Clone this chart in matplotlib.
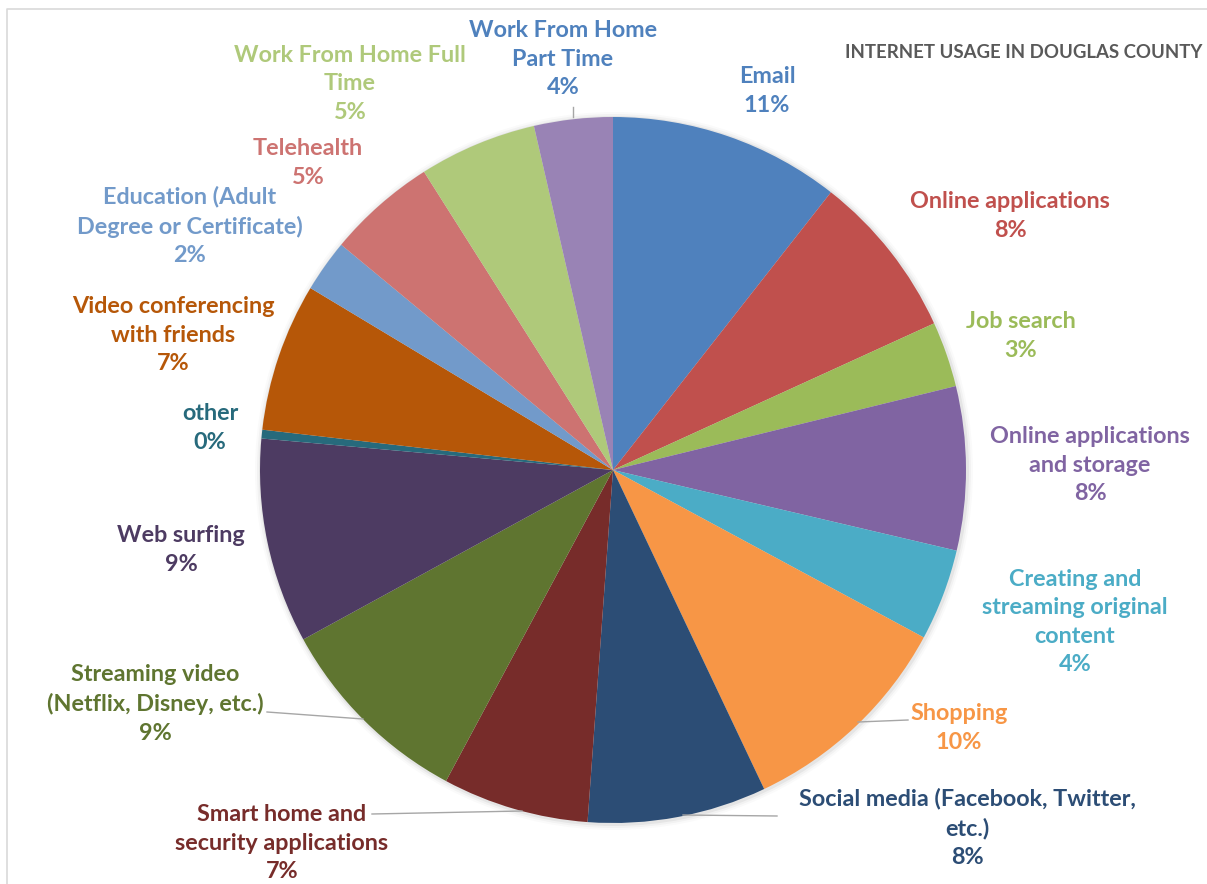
import matplotlib.pyplot as plt
from matplotlib.patches import Circle

# --- datos ---
categorias = [
    "Email", "Online applications", "Job search",
    "Online applications\nand storage",
    "Creating and\nstreaming original\ncontent",
    "Shopping", "Social media (Facebook, Twitter,\netc.)",
    "Smart home and\nsecurity applications",
    "Streaming video\n(Netflix, Disney, etc.)", "Web surfing", "other",
    "Video conferencing\nwith friends",
    "Education (Adult\nDegree or Certificate)", "Telehealth",
    "Work From Home Full\nTime", "Work From Home\nPart Time",
]
porcentajes = [10.6, 7.6, 3.0, 7.5, 4.2, 10.1, 8.2, 6.7,
               9.2, 9.4, 0.4, 6.8, 2.4, 5.0, 5.4, 3.6]
titulo = "INTERNET USAGE IN DOUGLAS COUNTY"

colores = ["#4F81BD", "#C0504D", "#9BBB59", "#8064A2", "#4BACC6", "#F79646",
           "#2C4D75", "#772C2A", "#5F7530", "#4D3B62", "#276A7C", "#B65708",
           "#729ACA", "#CD7371", "#AFC97A", "#9983B5"]
colores_txt = list(colores)
colores_txt[-1] = "#4F81BD"

# posiciones de etiquetas en pixeles (x, y desde arriba)
pos_etiquetas = [(767, 91), (1010, 216), (1021, 336), (1090, 465),
                 (1075, 622), (959, 728), (967, 828), (282, 843),
                 (155, 704), (181, 550), (210, 428), (173, 335),
                 (190, 226), (308, 163), (350, 84), (563, 59)]
# lineas guia (desde el borde del pastel hasta la etiqueta)
guias = {5: [(858, 722), (908, 720)],
         6: [(683, 815), (777, 816)],
         7: [(522, 811), (372, 814)],
         8: [(363, 719), (267, 712)],
         15: [(573, 117), (573, 107)]}

W, H = 1207, 884
CX, CY, R = 613, 470, 353

plt.rcParams['font.family'] = ['Lato', 'DejaVu Sans']
fig = plt.figure(figsize=(W / 100, H / 100), dpi=100)
ax = fig.add_axes([0, 0, 1, 1])

# sombra suave
for k, a in [(6, 0.02), (4, 0.03), (2, 0.05)]:
    ax.add_patch(Circle((CX + 1, H - CY - 1), R + k, color="k", alpha=a, lw=0))

ax.pie(porcentajes, colors=colores, startangle=90, counterclock=False,
       center=(CX, H - CY), radius=R, wedgeprops=dict(linewidth=0))

ax.set_xlim(0, W)
ax.set_ylim(0, H)
ax.set_aspect('equal')
ax.axis('off')

# marco del area de grafico
ax.plot([7, 7, W + 5], [-5, H - 9, H - 9], color="#D9D9D9", lw=1.2)

for i, (lab, val) in enumerate(zip(categorias, porcentajes)):
    x, y = pos_etiquetas[i]
    ax.text(x, H - y, f"{lab}\n{round(val):d}%", ha="center", va="center",
            fontsize=16.8, fontweight="bold", color=colores_txt[i],
            linespacing=1.45)

for i, pts in guias.items():
    ax.plot([p[0] for p in pts], [H - p[1] for p in pts], color="#A6A6A6", lw=1)

ax.text(845, H - 53, titulo, ha="left", va="center", fontsize=13.4,
        fontweight="bold", color="#595959")

fig.savefig("out.png", dpi=100)
